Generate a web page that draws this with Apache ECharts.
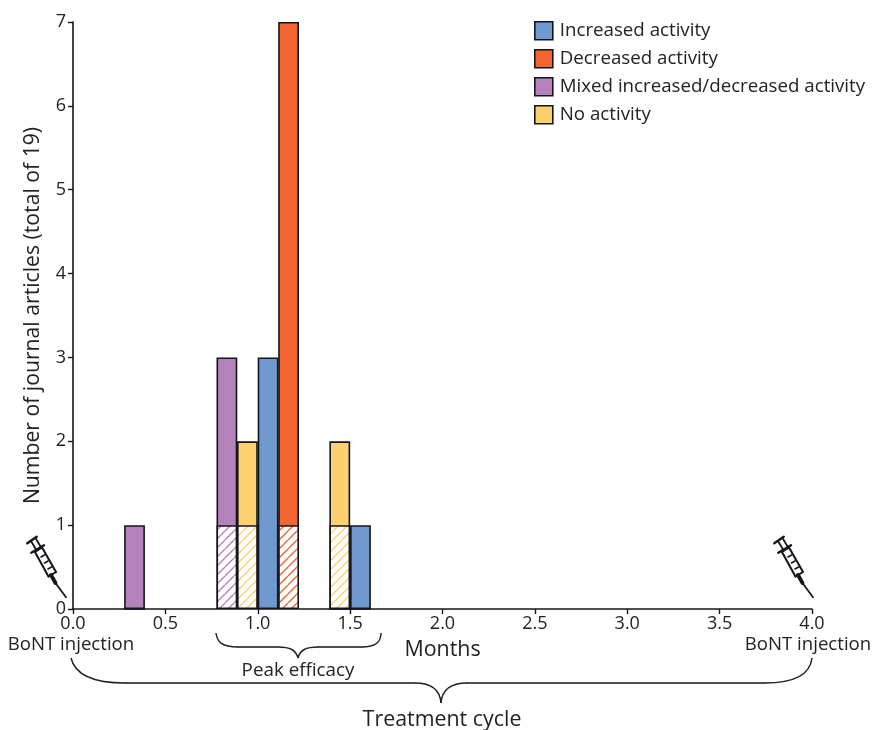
<!DOCTYPE html>
<html><head><meta charset="utf-8">
<style>html,body{margin:0;padding:0;background:#fff}#c{width:873px;height:730px}</style>
<script src="https://cdn.jsdelivr.net/npm/echarts@6/dist/echarts.min.js"></script>
</head><body><div id="c"></div>
<script>
const legendNames = ['Increased activity','Decreased activity','Mixed increased/decreased activity','No activity'];
const months            = [0.333,0.833,0.944,1.056,1.167,1.444,1.556];
// total articles per bin
const increased         = [null, null, null, 3,    null, null, 1   ];
const decreased         = [null, null, null, null, 7,    null, null];
const mixed             = [1,    3,    null, null, null, null, null];
const noActivity        = [null, null, 2,    null, null, 2,    null];
// hatched part of each bin
const noActivityHatched = [null, null, 1,    null, null, 1,    null];
const decreasedHatched  = [null, null, null, null, 1,    null, null];
const mixedHatched      = [0,    1,    null, null, null, 0,    0   ];
const colors = {inc:'#7099cf',dec:'#f26531',mix:'#b583bb',no:'#fdd16f'};

function hatch(col){
  const n=9, k=4, s=n*k, c=document.createElement('canvas'); c.width=c.height=s;
  const g=c.getContext('2d'); g.fillStyle='#fff'; g.fillRect(0,0,s,s);
  g.strokeStyle=col; g.lineWidth=1.4*k;
  for(let i=-s;i<=s;i+=s){ g.beginPath(); g.moveTo(i,s); g.lineTo(i+s,0); g.stroke(); }
  const o=document.createElement('canvas'); o.width=o.height=n;
  const h=o.getContext('2d'); h.imageSmoothingQuality='high'; h.drawImage(c,0,0,n,n);
  return {image:o,repeat:'repeat'};
}
const border={borderColor:'#14161c',borderWidth:1.6};
function bar(name,vals,color){
  return {name,type:'bar',barGap:'-100%',barWidth:20.8,data:months.map((m,i)=>[m,vals[i]]),
    itemStyle:Object.assign({color},border),emphasis:{disabled:true},animation:false};
}
const tc='#222';
const ink='#14161c';
const font='"Open Sans"';
function txt(t,x,y,size){return {type:'text',x,y,style:{text:t,fill:tc,font:size+'px '+font,align:'center',verticalAlign:'middle'},silent:true};}
function seg(x1,y1,x2,y2,w){return {type:'line',shape:{x1,y1,x2,y2},style:{stroke:ink,lineWidth:w||1.5,lineCap:'round'},silent:true};}
function curve(x1,y1,cx1,cy1,cx2,cy2,x2,y2){return {type:'bezierCurve',shape:{x1,y1,cpx1:cx1,cpy1:cy1,cpx2:cx2,cpy2:cy2,x2,y2},style:{stroke:'#222',lineWidth:1.5,fill:null},silent:true};}
function syringe(dx){
  return {type:'group',x:dx,y:0,silent:true,children:[
    seg(27.3,543.3,36.7,536.7,2.4),
    seg(31,541,37.5,552,1.8), seg(35.5,538,42,549,1.8),
    seg(31.3,552.7,44,545.3,2.4),
    {type:'polygon',shape:{points:[[35,552],[42,547.5],[56,572],[48.5,576.5]]},style:{fill:'#fff',stroke:ink,lineWidth:2},silent:true},
    seg(41,557,44.5,555,1.6), seg(44.5,563,48,561,1.6), seg(48,569,51.5,567,1.6),
    seg(51,575,55.5,583,3.8),
    seg(54,581,66,597.3,1.8)
  ]};
}

const chart=echarts.init(document.getElementById('c'),null,{renderer:'canvas'});
chart.setOption({
  animation:false,
  backgroundColor:'#fff',
  textStyle:{fontFamily:font,color:tc},
  grid:{left:73,right:61,top:22,bottom:121},
  legend:{left:529,top:16,orient:'vertical',data:legendNames,icon:'rect',itemWidth:18,itemHeight:18,itemGap:8.4,
    selectedMode:false,textStyle:{fontSize:18.7,lineHeight:18,height:18,padding:[0,0,0,2],color:tc,fontFamily:font},
    itemStyle:border},
  xAxis:{type:'value',min:0,max:4,interval:0.5,name:'Months',nameLocation:'middle',nameGap:30,
    nameTextStyle:{fontSize:21.4,color:tc},
    splitLine:{show:false},axisLine:{onZero:false,lineStyle:{color:ink,width:1.6}},
    axisTick:{show:true,length:5,lineStyle:{color:ink,width:1.4}},
    axisLabel:{fontSize:18,color:tc,margin:6,formatter:(v)=>v.toFixed(1),showMinLabel:true,showMaxLabel:true}},
  yAxis:{type:'value',min:0,max:7,interval:1,name:'Number of journal articles (total of 19)',nameLocation:'middle',nameGap:30,
    nameTextStyle:{fontSize:21.2,color:tc},
    splitLine:{show:false},axisLine:{show:true,lineStyle:{color:ink,width:1.6}},
    axisTick:{show:true,length:5,lineStyle:{color:ink,width:1.4}},
    axisLabel:{fontSize:18,color:tc,margin:7}},
  series:[
    bar(legendNames[0],increased,colors.inc),
    bar(legendNames[1],decreased,colors.dec),
    bar(legendNames[2],mixed,colors.mix),
    bar(legendNames[3],noActivity,colors.no),
    bar('hatchNo',noActivityHatched,hatch(colors.no)),
    bar('hatchDec',decreasedHatched,hatch(colors.dec)),
    bar('hatchMixed',mixedHatched,hatch(colors.mix))
  ],
  graphic:[
    txt('BoNT injection',71,645,18.6),
    txt('BoNT injection',808,645,18.6),
    txt('Peak efficacy',298,671,18.8),
    txt('Treatment cycle',442,720,21.4),
    curve(216,633,217,642,222,647,238,647),
    seg(238,647,278,647),
    curve(278,647,290,647,296,650,298,658),
    curve(298,658,300,650,306,647,318,647),
    seg(318,647,362,647),
    curve(362,647,376,647,381,642,381,633),
    curve(71,658,75,675,95,683,125,683),
    seg(125,683,415,683),
    curve(415,683,432,683,440,690,441,703),
    curve(441,703,442,690,450,683,467,683),
    seg(467,683,765,683),
    curve(765,683,795,683,810,675,812,658),
    syringe(0),
    syringe(747)
  ]
});
</script></body></html>
